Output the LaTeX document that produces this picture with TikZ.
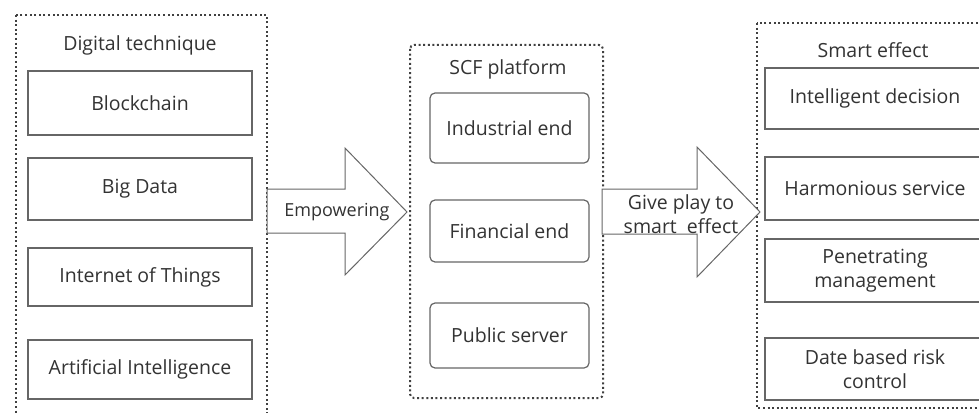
\documentclass[tikz,border=0pt]{standalone}
\usepackage{fontspec}
\setmainfont{Open Sans}
\begin{document}
\begin{tikzpicture}[x=1pt,y=-1pt,
  txt/.style={font=\fontsize{19.5}{24}\selectfont, text=black!80},
  frame/.style={draw=black!75, line width=2pt, dash pattern=on 2pt off 2.6pt},
  item/.style={draw=black!60, line width=1.2pt, fill=white, txt, align=center, inner sep=0pt},
  ritem/.style={item, rounded corners=5pt},
  bigarrow/.style={draw=black!60, line width=1pt, fill=white, line join=miter}]
\useasboundingbox (0,0) rectangle (979,412);
\clip (0,0) rectangle (979,412);
% left group
\draw[frame] (16,15) rectangle (267,425);
\node[txt] (t1) at (140,45) {Digital technique};
\node[item, minimum width=224, minimum height=64] (b1) at (140,103) {Blockchain};
\node[item, minimum width=224, minimum height=62] (b2) at (140,189) {Big Data};
\node[item, minimum width=224, minimum height=58] (b3) at (140,277) {Internet of Things};
\node[item, minimum width=224, minimum height=59] (b4) at (140,369.5) {Artificial Intelligence};
% middle group
\draw[frame, rounded corners=4pt] (410,45) rectangle (603,398);
\node[txt] (t2) at (508,69) {SCF platform};
\node[ritem, minimum width=159, minimum height=70] (m1) at (509.5,128) {Industrial end};
\node[ritem, minimum width=159, minimum height=62] (m2) at (509.5,231) {Financial end};
\node[ritem, minimum width=159, minimum height=65] (m3) at (509.5,335.5) {Public server};
% right group
\draw[frame] (757,23) rectangle (1000,408);
\node[txt] (t3) at (873,50) {Smart effect};
\node[item, minimum width=220, minimum height=61] (r1) at (875,98.5) {Intelligent decision};
\node[item, minimum width=220, minimum height=63] (r2) at (875,188.5) {Harmonious service};
\node[item, minimum width=220, minimum height=63] (r3) at (875,270.5) {Penetrating\\management};
\node[item, minimum width=220, minimum height=62] (r4) at (875,369) {Date based risk\\control};
% arrows
\draw[bigarrow] (267,189) -- (345,189) -- (345,148) -- (407,212) -- (345,275) -- (345,233) -- (267,233) -- cycle;
\node[txt, font=\fontsize{18}{22}\selectfont] (e1) at (337,212) {Empowering};
\draw[bigarrow] (602,189) -- (697,189) -- (697,147) -- (760,212) -- (697,277) -- (697,234) -- (602,234) -- cycle;
\node[txt, align=center] (e2) at (681,214) {Give play to\\smart~ effect};
\end{tikzpicture}
\end{document}
